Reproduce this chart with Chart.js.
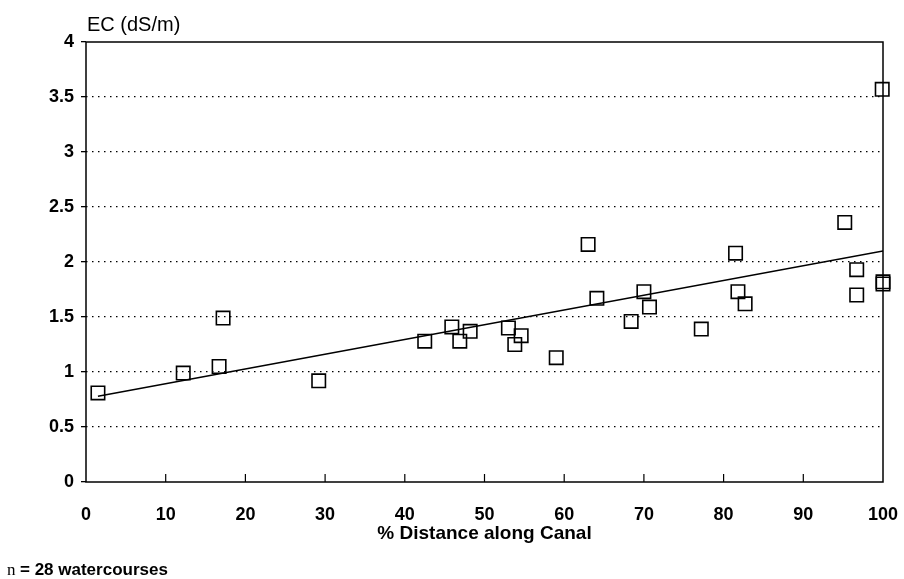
<!DOCTYPE html>
<html>
<head>
<meta charset="utf-8">
<script src="https://cdn.jsdelivr.net/npm/chart.js@4"></script>
<style>
  html, body { margin: 0; padding: 0; background: #fff; }
  #wrap { position: relative; width: 904px; height: 579px; }
</style>
</head>
<body>
<div id="wrap"><canvas id="ecChart" width="904" height="579"></canvas></div>
<script>
const distancePct = [1.5, 12.2, 16.7, 17.2, 29.2, 42.5, 45.9, 46.9, 48.2, 53.0,
    54.6, 53.8, 59.0, 63.0, 64.1, 68.4, 70.0, 70.7, 77.2, 81.5,
    81.8, 82.7, 95.2, 96.7, 96.7, 100, 100, 99.9];
const ecValues = [0.81, 0.99, 1.05, 1.49, 0.92, 1.28, 1.41, 1.28, 1.37, 1.40,
    1.33, 1.25, 1.13, 2.16, 1.67, 1.46, 1.73, 1.59, 1.39, 2.08,
    1.73, 1.62, 2.36, 1.93, 1.70, 1.82, 1.80, 3.57];

// Fitted trend line end points
const trendX = [1.5, 100];
const trendY = [0.78, 2.10];

// Axis ticks
const xTicks = [0, 10, 20, 30, 40, 50, 60, 70, 80, 90, 100];
const yTicks = [0, 0.5, 1, 1.5, 2, 2.5, 3, 3.5, 4];

const FONT = '"Liberation Sans", Arial, sans-serif';

// Frame, inward x ticks and free text
const framePlugin = {
    id: 'frame',
    afterDraw(chart) {
        const { ctx, chartArea: a, scales } = chart;
        ctx.save();
        ctx.strokeStyle = '#000';
        ctx.lineWidth = 1.5;
        ctx.strokeRect(a.left, a.top, a.right - a.left, a.bottom - a.top);

        ctx.lineWidth = 1.2;
        xTicks.slice(1, -1).forEach(v => {
            const px = scales.x.getPixelForValue(v);
            ctx.beginPath();
            ctx.moveTo(px, a.bottom);
            ctx.lineTo(px, a.bottom - 8);
            ctx.stroke();
        });

        ctx.fillStyle = '#000';
        ctx.textBaseline = 'alphabetic';
        ctx.textAlign = 'left';
        ctx.font = '20px ' + FONT;
        ctx.fillText('EC (dS/m)', a.left + 1, 31);

        ctx.textAlign = 'center';
        ctx.font = 'bold 19px ' + FONT;
        ctx.fillText('% Distance along Canal', (a.left + a.right) / 2, 539);

        ctx.textAlign = 'left';
        ctx.font = '17px "Liberation Serif", serif';
        ctx.fillText('n', 7, 575);
        ctx.font = 'bold 17px ' + FONT;
        ctx.fillText('= 28 watercourses', 20, 575);
        ctx.restore();
    }
};

new Chart(document.getElementById('ecChart'), {
    type: 'scatter',
    data: {
        datasets: [
            {
                label: 'EC',
                data: distancePct.map((x, i) => ({ x: x, y: ecValues[i] })),
                pointStyle: 'rect',
                radius: 9.5,
                borderColor: '#000',
                backgroundColor: 'rgba(0,0,0,0)',
                borderWidth: 1.6,
                clip: false
            },
            {
                type: 'line',
                label: 'Trend',
                data: trendX.map((x, i) => ({ x: x, y: trendY[i] })),
                borderColor: '#000',
                borderWidth: 1.5,
                pointRadius: 0,
                fill: false
            }
        ]
    },
    options: {
        responsive: false,
        animation: false,
        layout: { padding: { left: 0, right: 21, top: 42, bottom: 0 } },
        plugins: {
            legend: { display: false },
            tooltip: { enabled: false }
        },
        scales: {
            x: {
                type: 'linear',
                min: 0,
                max: 100,
                afterBuildTicks: s => { s.ticks = xTicks.map(v => ({ value: v })); },
                afterFit: s => { s.height = 97; s.paddingLeft = 0; s.paddingRight = 0; },
                grid: { display: false, drawTicks: false },
                border: { display: false },
                ticks: {
                    padding: 22,
                    color: '#000',
                    maxRotation: 0,
                    callback: v => String(v),
                    font: { family: FONT, size: 18, weight: 'bold' }
                }
            },
            y: {
                type: 'linear',
                min: 0,
                max: 4,
                afterBuildTicks: s => { s.ticks = yTicks.map(v => ({ value: v })); },
                afterFit: s => { s.width = 86; s.paddingTop = 0; s.paddingBottom = 0; },
                grid: {
                    color: c => (c.tick && (c.tick.value === 0 || c.tick.value === 4)) ? 'rgba(0,0,0,0)' : '#000',
                    lineWidth: 1.3,
                    tickColor: '#000',
                    tickLength: 5,
                    tickBorderDash: []
                },
                border: { display: false, dash: [1.5, 4.5] },
                ticks: {
                    padding: 7,
                    color: '#000',
                    callback: v => String(v),
                    font: { family: FONT, size: 18, weight: 'bold' }
                }
            }
        }
    },
    plugins: [framePlugin]
});
</script>
</body>
</html>
